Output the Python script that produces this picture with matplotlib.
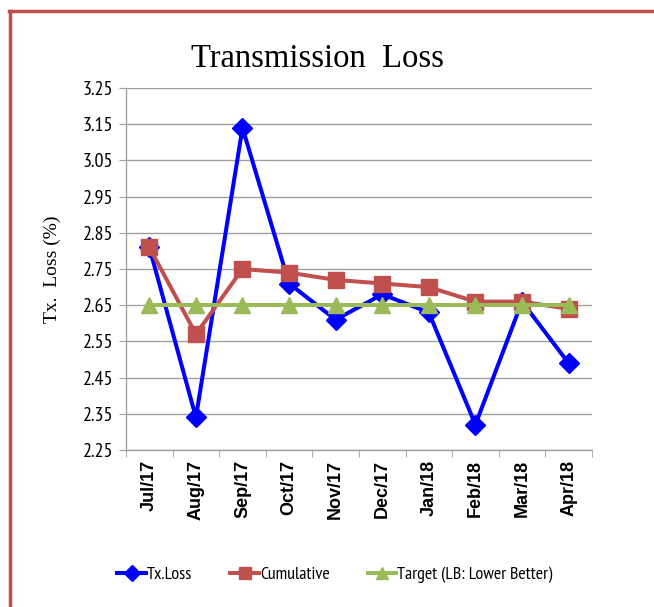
import matplotlib
matplotlib.use("Agg")
import matplotlib.pyplot as plt
from matplotlib.lines import Line2D

months = ["Jul/17", "Aug/17", "Sep/17", "Oct/17", "Nov/17", "Dec/17",
          "Jan/18", "Feb/18", "Mar/18", "Apr/18"]
tx_loss = [2.81, 2.34, 3.14, 2.71, 2.61, 2.68, 2.63, 2.32, 2.66, 2.49]
cumulative = [2.81, 2.57, 2.75, 2.74, 2.72, 2.71, 2.70, 2.66, 2.66, 2.64]
target = [2.65] * 10
yticks = [2.25, 2.35, 2.45, 2.55, 2.65, 2.75, 2.85, 2.95, 3.05, 3.15, 3.25]

narrow = ["PT Sans Narrow", "DejaVu Sans"]
serif = ["Liberation Serif", "DejaVu Serif"]

BLUE = "#0000FF"
RED = "#C0504D"
GREEN = "#9BBB59"

fig = plt.figure(figsize=(6.54, 6.07), dpi=100)
ax = fig.add_axes([0.1927, 0.2586, 0.7123, 0.5964])

x = list(range(len(months)))
ax.plot(x, tx_loss, color=BLUE, lw=2.9, marker="D", ms=10, zorder=3, label="Tx.Loss")
ax.plot(x, cumulative, color=RED, lw=2.9, marker="s", ms=11, zorder=4, label="Cumulative")
ax.plot(x, target, color=GREEN, lw=2.9, marker="^", ms=11, zorder=5,
        label="Target (LB: Lower Better)")

ax.set_xlim(-0.5, len(months) - 0.5)
ax.set_ylim(2.25, 3.25)
ax.set_yticks(yticks)
ax.set_yticklabels([f"{v:.2f}" for v in yticks], fontfamily=narrow, fontsize=14.5)
ax.set_xticks(x)
ax.set_xticklabels(months, rotation=90, fontsize=13, fontweight="bold",
                   fontfamily="Liberation Sans")
ax.tick_params(axis="x", length=0, pad=7)
ax.set_xticks([i + 0.5 for i in range(-1, len(months))], minor=True)
ax.tick_params(axis="x", which="minor", length=5, color="#A0A0A0", direction="out")
ax.tick_params(axis="y", length=5, color="#A0A0A0", direction="out", pad=4)

ax.grid(axis="y", color="#A0A0A0", lw=1.0)
ax.set_axisbelow(True)
for s in ["top", "right"]:
    ax.spines[s].set_visible(False)
for s in ["left", "bottom"]:
    ax.spines[s].set_color("#A0A0A0")
    ax.spines[s].set_linewidth(1.0)

ax.set_ylabel("Tx.  Loss (%)", fontfamily=serif, fontsize=14, labelpad=16)

fig.text(0.486, 0.903, "Transmission  Loss", ha="center", va="center",
         fontfamily=serif, fontsize=23.5)

handles = [
    Line2D([], [], color=BLUE, lw=2.9, marker="D", ms=8),
    Line2D([], [], color=RED, lw=2.9, marker="s", ms=8),
    Line2D([], [], color=GREEN, lw=2.9, marker="^", ms=8),
]
labels = ["Tx.Loss", "Cumulative", "Target (LB: Lower Better)"]
fig.legend(handles, labels, loc="center", bbox_to_anchor=(0.512, 0.053), ncol=3,
           frameon=False, prop={"family": narrow, "size": 13},
           handlelength=1.6, handletextpad=0.05, columnspacing=2.1)

# Red frame lines (left and top)
fig.add_artist(Line2D([0.016, 0.016], [0.0, 0.982], transform=fig.transFigure,
                      color=RED, lw=2.5))
fig.add_artist(Line2D([0.013, 1.0], [0.982, 0.982], transform=fig.transFigure,
                      color=RED, lw=2.5))

fig.savefig("out.png", dpi=100)
